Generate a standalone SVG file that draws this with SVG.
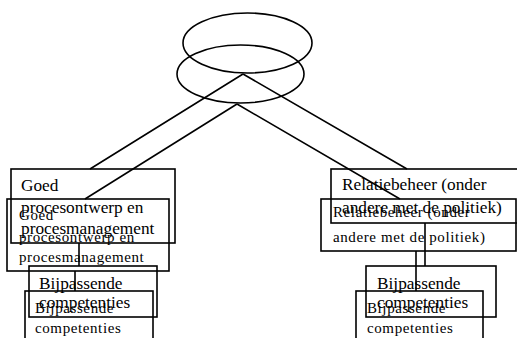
<svg xmlns="http://www.w3.org/2000/svg" width="517" height="338" viewBox="0 0 517 338">
<style>
.s{fill:none;stroke:#000;stroke-width:1.6}
.b{fill:none;stroke:#000;stroke-width:1.6}
.ta{font-family:"Liberation Serif","Times New Roman",serif;font-size:17.3px;fill:#000}
.tb{font-family:"Liberation Serif","Times New Roman",serif;font-size:15px;letter-spacing:0.6px;fill:#000}
</style>
<rect width="517" height="338" fill="#fff"/>
<g id="connectors">
<path class="s" d="M243,74 L90,169 M243,74 L407,169"/>
<path class="s" d="M237,104 L85,199 M237,104 L400,199"/>
<path class="s" d="M79,243 V266 M75,271 V291"/>
<path class="s" d="M425,223 V266 M416,251 V291"/>
</g>
<g id="top-ellipse-a"><ellipse class="b" cx="247.5" cy="43" rx="64.5" ry="30"/></g>
<g id="top-ellipse-b"><ellipse class="b" cx="240.5" cy="74" rx="63.5" ry="29"/></g>
<g id="goed-a"><rect class="b" x="11" y="169" width="164" height="74"/>
<text class="ta" x="21" y="191">Goed</text><text class="ta" x="21" y="212.5">procesontwerp en</text><text class="ta" x="21" y="234">procesmanagement</text></g>
<g id="goed-b"><rect class="b" x="7" y="199" width="162" height="72"/>
<text class="tb" x="19" y="220">Goed</text><text class="tb" x="19" y="241.5">procesontwerp en</text><text class="tb" x="19" y="262">procesmanagement</text></g>
<g id="relatie-a"><rect class="b" x="331" y="169" width="200" height="54"/>
<text class="ta" x="342" y="190">Relatiebeheer (onder</text><text class="ta" x="342" y="213">andere met de politiek)</text></g>
<g id="relatie-b"><rect class="b" x="321" y="199" width="195" height="52"/>
<text class="tb" x="333" y="217">Relatiebeheer (onder</text><text class="tb" x="333" y="242">andere met de politiek)</text></g>
<g id="bij-left-a"><rect class="b" x="29" y="266" width="128" height="51"/>
<text class="ta" x="39" y="289">Bijpassende</text><text class="ta" x="39" y="308">competenties</text></g>
<g id="bij-left-b"><rect class="b" x="25" y="291" width="128" height="60"/>
<text class="tb" x="35" y="313">Bijpassende</text><text class="tb" x="35" y="333">competenties</text></g>
<g id="bij-right-a"><rect class="b" x="366" y="266" width="130" height="51"/>
<text class="ta" x="377" y="289">Bijpassende</text><text class="ta" x="377" y="308">competenties</text></g>
<g id="bij-right-b"><rect class="b" x="356" y="291" width="127" height="60"/>
<text class="tb" x="367" y="313">Bijpassende</text><text class="tb" x="367" y="333">competenties</text></g>
</svg>
